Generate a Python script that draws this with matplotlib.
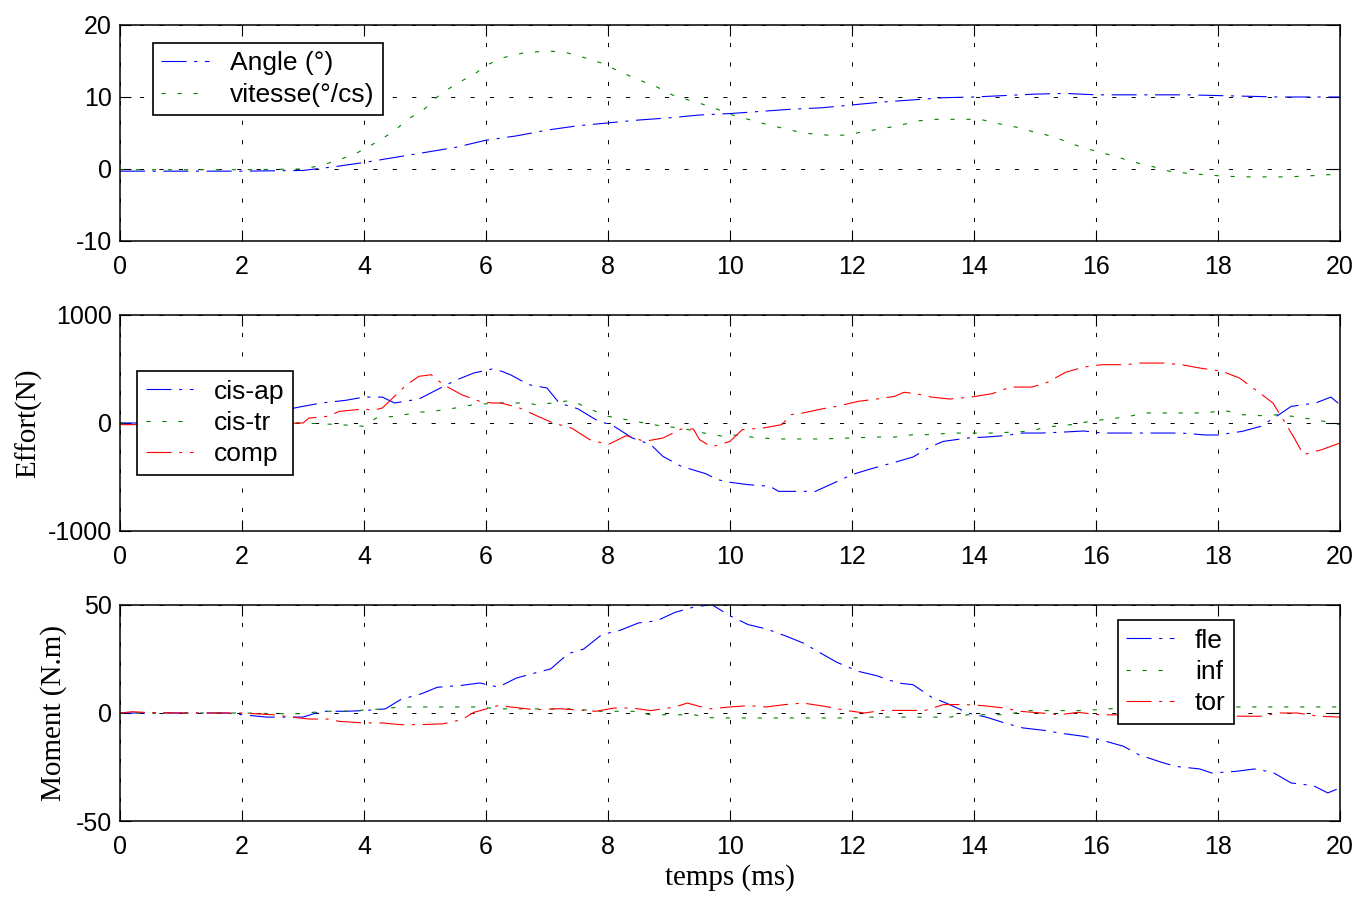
import numpy as np
import matplotlib
matplotlib.use("Agg")
import matplotlib.pyplot as plt

plt.rcParams['lines.scale_dashes'] = False
plt.rcParams['axes.unicode_minus'] = False
plt.rcParams['font.family'] = ['Liberation Sans', 'DejaVu Sans']

# ---- panel 1 : angle / vitesse
t_angle = [0, 1, 2, 3, 3.5, 4, 4.5, 5, 5.5, 6, 6.5, 7, 7.5, 8, 8.5, 9, 9.5, 10,
           10.5, 11, 11.5, 12, 12.5, 13, 13.5, 14, 14.5, 15, 15.5, 16, 16.5, 17,
           17.5, 18, 18.5, 19, 19.5, 20]
angle = [-0.3, -0.3, -0.3, -0.2, 0.3, 0.9, 1.6, 2.3, 3.0, 4.0, 4.6, 5.4, 6.0, 6.4,
         6.8, 7.1, 7.5, 7.7, 8.0, 8.3, 8.5, 8.9, 9.3, 9.6, 9.9, 10.0, 10.2, 10.4,
         10.5, 10.3, 10.3, 10.3, 10.3, 10.2, 10.1, 10.0, 10.0, 10.0]

t_vit = [0, 1, 2, 3, 3.3, 3.6, 3.9, 4.2, 4.5, 4.7, 5.0, 5.2, 5.5, 5.8, 6.0, 6.3,
         6.6, 7.0, 7.3, 7.6, 7.9, 8.2, 8.5, 8.8, 9.1, 9.4, 9.7, 10.0, 10.3, 10.6,
         10.9, 11.2, 11.6, 11.9, 12.2, 12.5, 12.8, 13.1, 13.4, 13.8, 14.1, 14.4,
         14.7, 15.0, 15.3, 15.6, 15.9, 16.3, 16.6, 16.9, 17.2, 17.5, 17.8, 18.1,
         18.5, 18.8, 19.1, 19.4, 19.8, 20]
vitesse = [-0.1, -0.1, -0.1, 0, 0.5, 1.3, 2.3, 3.7, 5.3, 6.8, 8.4, 10.0, 11.8, 13.1,
           14.4, 15.5, 16.1, 16.4, 16.2, 15.5, 14.7, 13.5, 12.4, 11.4, 10.1, 9.4,
           8.6, 7.6, 6.9, 6.2, 5.6, 5.0, 4.7, 4.7, 5.2, 5.6, 6.1, 6.7, 6.9, 6.9,
           6.9, 6.3, 5.8, 5.1, 4.5, 3.5, 2.7, 1.8, 1.0, 0.4, -0.3, -0.6, -0.8,
           -1.0, -1.1, -1.1, -1.1, -1.0, -0.8, -0.7]

# ---- panel 2 : efforts
t_cisap = [0, 1, 2, 2.5, 3, 3.3, 3.7, 4.0, 4.3, 4.5, 4.9, 5.2, 5.5, 5.8, 6.1, 6.25,
           6.4, 6.7, 7.0, 7.2, 7.5, 7.8, 8.1, 8.4, 8.7, 8.9, 9.2, 9.6, 9.8, 10.0,
           10.3, 10.65, 10.8, 11.1, 11.4, 11.7, 12.0, 12.3, 12.7, 13.0, 13.3, 13.5,
           13.9, 14.2, 14.5, 14.8, 15.1, 15.4, 15.8, 16.1, 16.5, 16.7, 17.1, 17.4,
           17.8, 18.0, 18.4, 18.7, 19.0, 19.2, 19.6, 19.85, 20]
cis_ap = [0, 0, 50, 100, 154, 185, 210, 240, 240, 185, 222, 309, 395, 463, 500,
          480, 447, 355, 324, 185, 133, 31, -31, -139, -200, -309, -401, -469,
          -525, -549, -571, -586, -633, -633, -633, -556, -478, -426, -364, -315,
          -216, -170, -139, -130, -117, -93, -93, -86, -74, -93, -93, -93, -93,
          -93, -111, -111, -77, -31, 77, 154, 185, 240, 170]

t_cistr = [0, 1, 2, 3, 3.6, 4.0, 4.2, 4.5, 4.9, 5.2, 5.5, 5.8, 6.2, 6.7, 6.8, 7.1,
           7.4, 7.7, 8.0, 8.3, 8.6, 8.9, 9.2, 9.5, 9.85, 10.0, 10.4, 10.75, 11.5,
           12.4, 12.7, 13.0, 13.3, 13.6, 14.3, 14.9, 15.2, 15.6, 15.9, 16.2, 16.5,
           16.8, 17.5, 17.8, 18.1, 18.4, 18.7, 19.0, 19.3, 19.65, 20]
cis_tr = [0, 0, 0, 0, -15, -31, 46, 62, 99, 114, 139, 170, 185, 185, 170, 185, 210,
          130, 62, 31, 0, -31, -46, -86, -120, -108, -133, -148, -148, -130, -130,
          -108, -108, -93, -93, -77, -37, -15, 15, 37, 56, 93, 93, 93, 117, 77, 68,
          77, 56, 25, -15]

t_comp = [0, 0.5, 1, 2, 3, 3.1, 3.4, 3.6, 4.0, 4.15, 4.3, 4.5, 4.7, 4.9, 5.1, 5.3,
          5.6, 5.9, 6.1, 6.25, 6.55, 6.85, 7.1, 7.4, 7.7, 8.0, 8.3, 8.6, 8.9, 9.2,
          9.4, 9.5, 9.7, 10.0, 10.2, 10.55, 10.85, 11.0, 11.2, 11.5, 11.75, 12.1,
          12.4, 12.7, 12.85, 13.05, 13.3, 13.6, 13.95, 14.3, 14.6, 14.95, 15.2,
          15.5, 15.8, 16.1, 16.5, 16.7, 17.1, 17.4, 17.7, 18.07, 18.35, 18.65,
          18.9, 19.07, 19.25, 19.4, 19.7, 20]
comp = [-15, -15, -15, -10, 0, 46, 62, 108, 130, 117, 139, 247, 355, 432, 447, 355,
        262, 200, 185, 185, 139, 62, 0, -46, -154, -200, -117, -170, -139, -56,
        -56, -154, -222, -170, -62, -46, -15, 77, 93, 130, 154, 200, 222, 247, 284,
        272, 240, 222, 240, 272, 333, 333, 376, 469, 518, 540, 540, 555, 555, 540,
        509, 478, 417, 293, 185, 31, -139, -293, -247, -185]

# ---- panel 3 : moments
t_fle = [0, 1, 1.75, 2, 2.4, 3.0, 3.3, 3.7, 4.0, 4.35, 4.6, 4.95, 5.2, 5.6, 5.9,
         6.2, 6.5, 6.8, 7.06, 7.35, 7.6, 7.9, 8.2, 8.5, 8.8, 9.1, 9.4, 9.7, 10.0,
         10.3, 10.6, 10.9, 11.2, 11.5, 11.75, 12.1, 12.4, 12.75, 13.0, 13.3, 13.6,
         13.9, 14.2, 14.5, 14.8, 15.2, 15.4, 15.8, 16.06, 16.45, 16.7, 17.06, 17.3,
         17.7, 17.9, 18.3, 18.6, 18.9, 19.2, 19.56, 19.8, 20]
fle = [0, 0, 0, -0.8, -1.9, -1.9, 0.8, 0.8, 1.1, 1.9, 6.2, 9.0, 11.9, 12.8, 13.9,
       12.0, 16.2, 18.5, 20.4, 27.5, 29.6, 36.3, 38.3, 41.7, 42.7, 46.6, 49.0, 50.2,
       45.0, 40.9, 38.9, 35.8, 32.4, 27.5, 23.5, 19.3, 17.3, 13.9, 13.1, 7.4, 3.9,
       0, -1.9, -4.6, -6.9, -8.2, -9.3, -10.8, -12.3, -15.4, -19.3, -22.7, -24.7,
       -25.9, -27.8, -27.0, -25.9, -27.5, -32.4, -33.6, -37.0, -34.7]

t_inf = [0, 1, 2, 2.5, 3, 3.3, 3.7, 4.3, 4.6, 5.9, 6.2, 6.5, 7.5, 7.8, 8.4, 8.7, 9.4,
         9.7, 10, 12.0, 12.3, 13.6, 13.9, 14.5, 14.9, 15.8, 16.2, 16.6, 18.5, 20]
inf = [0, 0, 0, -0.3, -0.3, 0.8, 0.8, 1.9, 2.8, 2.8, 1.9, 1.9, 1.9, 0.8, 0.8, -0.8,
       -0.8, -2.2, -2.3, -2.3, -1.9, -1.9, -0.8, -0.8, 1.1, 1.1, 1.9, 2.5, 2.8, 2.8]

t_tor = [0, 0.2, 0.45, 1, 2, 2.5, 3.1, 3.4, 3.6, 4.0, 4.3, 4.6, 4.9, 5.3, 5.6, 5.8,
         6.2, 6.5, 6.8, 7.2, 7.45, 7.8, 8.1, 8.4, 8.7, 9.1, 9.3, 9.65, 10, 10.3,
         10.6, 10.9, 11.2, 11.55, 11.9, 12.2, 12.5, 12.85, 13.2, 13.5, 13.85,
         14.15, 14.5, 14.75, 15.1, 15.4, 15.7, 16.05, 17, 18.4, 18.7, 19.0, 19.3,
         19.65, 20]
tor = [0, 0.6, 0.2, 0, 0, -0.8, -2.8, -2.8, -3.9, -4.6, -4.6, -5.4, -5.4, -5.0,
       -3.1, 0.3, 3.4, 2.5, 1.5, 2.0, 1.5, 0.8, 2.3, 2.3, 1.1, 2.8, 4.6, 1.9, 2.8,
       3.4, 2.8, 3.9, 4.6, 3.1, 1.2, 0, 1.2, 1.2, 1.2, 3.9, 3.9, 3.4, 2.3, 0.8, 0,
       -0.8, 0.3, -0.8, -1.0, -1.5, -1.5, 0, 0, -1.5, -1.9]

x_ticks = list(range(0, 21, 2))

DASHDOT = (0, (18, 5.5, 2.2, 5.5))
DOTTED = (0, (3, 8.5))
GRID = (0, (3, 11))
LW = 0.8
TICKSIZE = 18
LEGSIZE = 19
LABELSIZE = 21

fig = plt.figure(figsize=(13.57, 8.97), dpi=100)
left, width, height = 120 / 1357, 1220 / 1357, 216 / 897
bottoms = [(897 - 241) / 897, (897 - 531) / 897, (897 - 821) / 897]
axes = [fig.add_axes([left, b, width, height]) for b in bottoms]


def style(ax, yticks):
    ax.set_xlim(0, 20)
    ax.set_ylim(yticks[0], yticks[-1])
    ax.set_xticks(x_ticks)
    ax.set_yticks(yticks)
    ax.tick_params(direction='in', length=8, width=0.8, top=True, right=True,
                   labelsize=TICKSIZE)
    ax.tick_params(axis='x', pad=10)
    ax.tick_params(axis='y', pad=6)
    ax.grid(True, color='black', linestyle=GRID, linewidth=0.7)
    for s in ax.spines.values():
        s.set_linewidth(1.1)


def legend(ax, anchor):
    lg = ax.legend(loc='upper left', bbox_to_anchor=anchor, borderaxespad=0,
                   fontsize=LEGSIZE, fancybox=False, edgecolor='black',
                   framealpha=1, handlelength=1.8, handletextpad=0.8,
                   labelspacing=0.28, borderpad=0.32)
    lg.get_frame().set_linewidth(1.2)


serif = ['Liberation Serif', 'DejaVu Serif']

ax = axes[0]
ax.plot(t_angle, angle, color='blue', linestyle=DASHDOT, linewidth=LW, label='Angle (°)')
ax.plot(t_vit, vitesse, color='green', linestyle=DOTTED, linewidth=LW, label='vitesse(°/cs)')
style(ax, [-10, 0, 10, 20])
legend(ax, (0.027, 0.917))

ax = axes[1]
ax.plot(t_cisap, cis_ap, color='blue', linestyle=DASHDOT, linewidth=LW, label='cis-ap')
ax.plot(t_cistr, cis_tr, color='green', linestyle=DOTTED, linewidth=LW, label='cis-tr')
ax.plot(t_comp, comp, color='red', linestyle=DASHDOT, linewidth=LW, label='comp')
style(ax, [-1000, 0, 1000])
legend(ax, (0.014, 0.74))
ax.set_ylabel('Effort(N)', family=serif, fontsize=LABELSIZE, labelpad=4)

ax = axes[2]
ax.plot(t_fle, fle, color='blue', linestyle=DASHDOT, linewidth=LW, label='fle')
ax.plot(t_inf, inf, color='green', linestyle=DOTTED, linewidth=LW, label='inf')
ax.plot(t_tor, tor, color='red', linestyle=DASHDOT, linewidth=LW, label='tor')
style(ax, [-50, 0, 50])
legend(ax, (0.818, 0.93))
ax.set_ylabel('Moment (N.m)', family=serif, fontsize=LABELSIZE, labelpad=6)
ax.set_xlabel('temps (ms)', family=serif, fontsize=LABELSIZE, labelpad=4)

fig.savefig('out.png', dpi=100)
